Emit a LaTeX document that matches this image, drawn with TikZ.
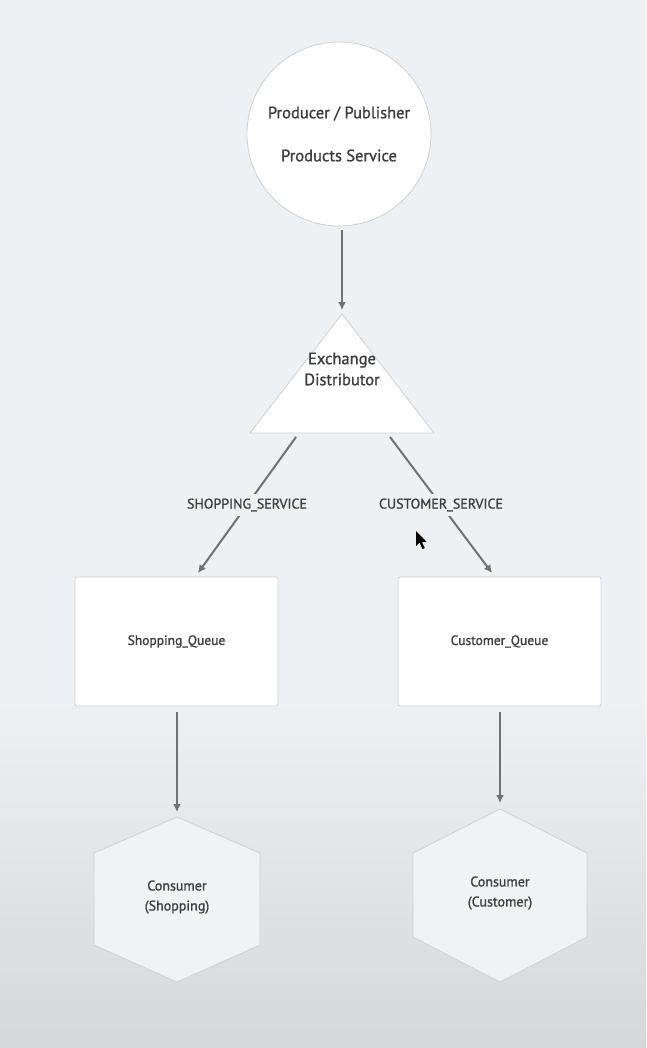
\documentclass[tikz,border=0pt]{standalone}
\usepackage{fontspec}
\setmainfont{PT Sans}
\newfontfamily\dfont{PT Sans}[FakeBold=1.2]
\usetikzlibrary{arrows.meta,calc}
\definecolor{bg}{RGB}{238,241,243}
\definecolor{bgdark}{RGB}{212,216,218}
\definecolor{edge}{RGB}{110,114,118}
\definecolor{txt}{RGB}{60,62,65}
\definecolor{border}{RGB}{206,208,210}
\definecolor{hexfill}{RGB}{241,242,243}
\begin{document}
\begin{tikzpicture}[x=1pt,y=-1pt,
  conn/.style={draw=edge, line width=2pt, -{Latex[length=8pt,width=8pt]}},
  lbl/.style={font=\dfont\fontsize{14}{15}\selectfont, text=txt, fill=bg, inner xsep=2pt, inner ysep=5pt},
  boxnode/.style={draw=border, fill=white, line width=0.8pt, rounded corners=2pt, minimum width=203pt, minimum height=129pt, font=\dfont\fontsize{13.5}{15}\selectfont, text=txt},
  shapeline/.style={draw=border, line width=0.8pt},
  txtnode/.style={text=txt, align=center, inner sep=0pt}]
% background
\fill[bg] (0,0) rectangle (646,1048);
\shade[top color=bg, bottom color=bgdark] (0,1048) rectangle (646,700);
\useasboundingbox (0,0) rectangle (646,1048);

% producer circle
\node[circle, draw=border, fill=white, line width=0.8pt, minimum size=184pt, align=center, text=txt,
  font=\dfont\fontsize{16.5}{19}\selectfont] (prod) at (339,134) {Producer / Publisher\\[24pt]Products Service};

% exchange triangle
\path[shapeline, fill=white] (342,314) -- (434,433) -- (250,433) -- cycle;
\node[txtnode, font=\dfont\fontsize{16.5}{21}\selectfont] (exch) at (342,369) {Exchange\\Distributor};
\coordinate (exTop) at (342,310);
\coordinate (exL) at (296,437);
\coordinate (exR) at (390,437);

% queues
\node[boxnode] (sq) at (176.5,641.5) {Shopping\_Queue};
\node[boxnode] (cq) at (499.5,641.5) {Customer\_Queue};
\coordinate (sqIn) at (198,573);
\coordinate (cqIn) at (492,573);

% consumers (hexagons)
\path[shapeline, fill=hexfill] (177,817) -- (260,853) -- (260,945) -- (177,982) -- (94,945) -- (94,853) -- cycle;
\node[txtnode, font=\dfont\fontsize{14}{20}\selectfont] (cs) at (177,897) {Consumer\\(Shopping)};
\coordinate (csTop) at (177,812);
\path[shapeline, fill=hexfill] (500,809) -- (587,853) -- (587,937) -- (500,982) -- (413,937) -- (413,853) -- cycle;
\node[txtnode, font=\dfont\fontsize{14}{20}\selectfont] (cc) at (500,893) {Consumer\\(Customer)};
\coordinate (ccTop) at (500,803);

% connectors
\draw[conn] (prod.south) ++(3,4) coordinate (prodOut) -- (exTop);
\draw[conn] (exL) -- node[lbl] {SHOPPING\_SERVICE} (sqIn);
\draw[conn] (exR) -- node[lbl] {CUSTOMER\_SERVICE} (cqIn);
\draw[conn] ($(sq.south)+(0.5,6)$) -- (csTop);
\draw[conn] ($(cq.south)+(0.5,6)$) -- (ccTop);

% mouse pointer
\fill[black] (416,531) -- (416,546) -- (419.5,542.5) -- (422.5,549) -- (424.8,548) -- (421.8,541.8) -- (426.5,541.8) -- cycle;
\end{tikzpicture}
\end{document}
